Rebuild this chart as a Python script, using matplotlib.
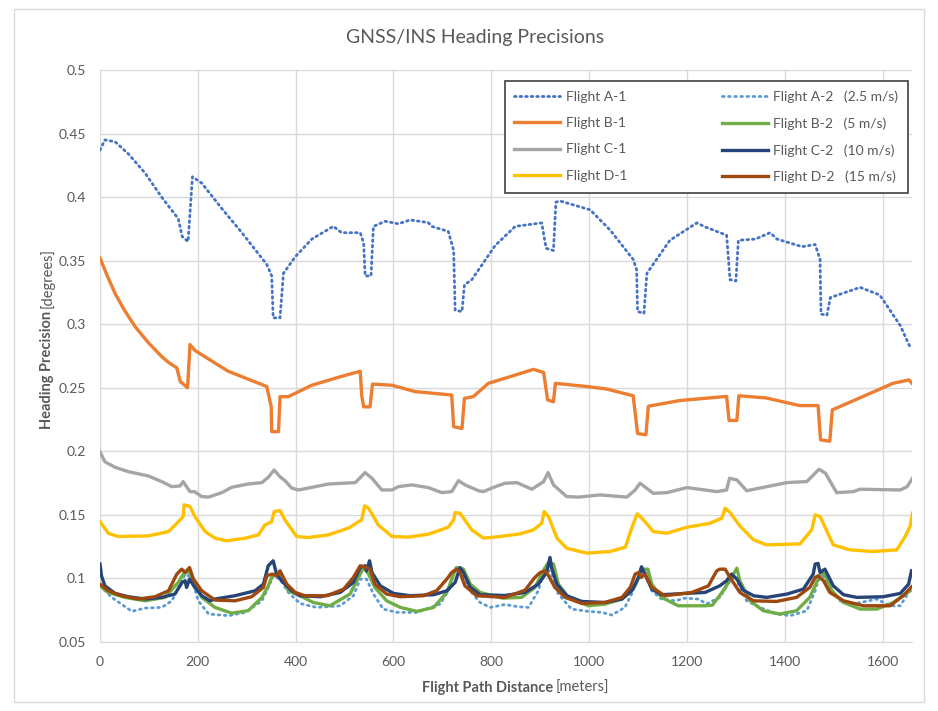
import matplotlib
matplotlib.use("Agg")
import matplotlib.pyplot as plt
from matplotlib.patches import Rectangle

plt.rcParams['font.family'] = ['Lato', 'DejaVu Sans']

# Flight A-1 (dotted blue)
a1_dist = [0, 10, 31, 58, 92, 126, 160, 168, 180, 189, 208, 249, 290, 341, 351, 354,
           368, 375, 399, 433, 477, 494, 532, 539, 542, 554, 559, 583, 610, 634, 671,
           678, 712, 723, 726, 740, 745, 760, 808, 849, 903, 912, 927, 932, 940, 1002,
           1043, 1090, 1097, 1099, 1112, 1118, 1165, 1220, 1237, 1281, 1288, 1300, 1305,
           1340, 1370, 1384, 1435, 1462, 1472, 1474, 1486, 1493, 1554, 1594, 1636, 1656]
a1_prec = [0.437, 0.445, 0.4435, 0.434, 0.419, 0.400, 0.383, 0.369, 0.365, 0.416, 0.411,
           0.391, 0.372, 0.347, 0.338, 0.305, 0.305, 0.340, 0.353, 0.367, 0.377, 0.372,
           0.372, 0.364, 0.338, 0.338, 0.377, 0.381, 0.379, 0.382, 0.380, 0.377, 0.373,
           0.358, 0.311, 0.310, 0.331, 0.335, 0.362, 0.377, 0.3797, 0.3597, 0.358, 0.396,
           0.397, 0.390, 0.374, 0.351, 0.343, 0.310, 0.3085, 0.340, 0.366, 0.3797, 0.3766,
           0.370, 0.335, 0.334, 0.366, 0.367, 0.372, 0.367, 0.361, 0.3627, 0.351, 0.308,
           0.307, 0.321, 0.329, 0.323, 0.299, 0.282]

# Flight B-1 (orange)
b1_dist = [0, 15, 31, 50, 72, 100, 126, 140, 157, 164, 179, 184, 194, 262, 341, 350, 351,
           365, 368, 385, 433, 494, 532, 535, 539, 552, 557, 597, 644, 719, 723, 740, 745,
           763, 794, 849, 886, 907, 915, 927, 931, 995, 1036, 1090, 1099, 1116, 1121, 1186,
           1281, 1286, 1302, 1306, 1362, 1430, 1468, 1473, 1492, 1497, 1553, 1621, 1654,
           1660]
b1_prec = [0.352, 0.338, 0.324, 0.311, 0.298, 0.285, 0.2746, 0.270, 0.2657, 0.255, 0.250,
           0.284, 0.2794, 0.263, 0.251, 0.235, 0.2155, 0.2155, 0.243, 0.243, 0.252, 0.259,
           0.263, 0.244, 0.235, 0.235, 0.2529, 0.252, 0.247, 0.2443, 0.2194, 0.218, 0.2417,
           0.243, 0.2535, 0.260, 0.2645, 0.262, 0.2405, 0.239, 0.2535, 0.251, 0.249,
           0.2437, 0.214, 0.213, 0.2355, 0.240, 0.2432, 0.2243, 0.2243, 0.2437, 0.242,
           0.236, 0.236, 0.209, 0.208, 0.2326, 0.242, 0.2535, 0.2562, 0.2535]

# Flight C-1 (grey)
c1_dist = [0, 10, 31, 58, 99, 126, 147, 164, 170, 179, 184, 193, 208, 222, 249, 269, 303,
           331, 344, 356, 368, 378, 392, 406, 440, 467, 522, 542, 556, 576, 597, 610, 637,
           671, 699, 719, 733, 746, 774, 784, 808, 828, 852, 883, 907, 916, 927, 954, 978,
           1022, 1077, 1094, 1104, 1131, 1159, 1200, 1261, 1281, 1287, 1302, 1322, 1363,
           1404, 1445, 1470, 1483, 1506, 1540, 1554, 1636, 1650, 1661]
c1_prec = [0.1997, 0.1918, 0.1874, 0.184, 0.1806, 0.1762, 0.1722, 0.1728, 0.1762, 0.171,
           0.1683, 0.1683, 0.1644, 0.164, 0.1675, 0.1717, 0.1743, 0.1754, 0.1796, 0.1853,
           0.180, 0.177, 0.171, 0.1696, 0.1722, 0.1743, 0.1754, 0.1833, 0.1788, 0.1696,
           0.1696, 0.1722, 0.1736, 0.1715, 0.1675, 0.1683, 0.177, 0.1736, 0.169, 0.1683,
           0.1722, 0.1749, 0.1754, 0.1702, 0.1762, 0.1833, 0.1736, 0.1644, 0.164, 0.1657,
           0.164, 0.1696, 0.1749, 0.167, 0.1675, 0.1715, 0.1683, 0.1696, 0.1788, 0.1775,
           0.169, 0.1722, 0.1754, 0.1762, 0.1859, 0.1828, 0.1675, 0.1683, 0.1702, 0.1696,
           0.1722, 0.1788]

# Flight D-1 (yellow)
d1_dist = [0, 17, 37, 99, 140, 164, 170, 172, 184, 194, 215, 235, 259, 297, 324, 337, 351,
           356, 368, 378, 402, 426, 467, 508, 535, 541, 549, 569, 597, 630, 671, 712, 723,
           726, 736, 760, 784, 818, 859, 886, 903, 908, 917, 934, 954, 995, 1043, 1074,
           1087, 1098, 1108, 1131, 1159, 1200, 1247, 1271, 1278, 1288, 1309, 1336, 1363,
           1431, 1455, 1462, 1472, 1499, 1533, 1581, 1629, 1646, 1656, 1661]
d1_prec = [0.1447, 0.1355, 0.133, 0.1335, 0.1369, 0.1461, 0.1487, 0.1579, 0.1566, 0.1487,
           0.1369, 0.1317, 0.1296, 0.1317, 0.1343, 0.142, 0.1447, 0.1526, 0.1534, 0.1461,
           0.133, 0.1322, 0.1343, 0.1396, 0.1461, 0.1571, 0.1553, 0.142, 0.133, 0.1325,
           0.1348, 0.1403, 0.1461, 0.1518, 0.1513, 0.1382, 0.1317, 0.133, 0.1351, 0.1382,
           0.1434, 0.1526, 0.1487, 0.1317, 0.1238, 0.1199, 0.1212, 0.1246, 0.1396, 0.1508,
           0.1474, 0.1369, 0.1356, 0.1403, 0.1434, 0.1474, 0.1553, 0.1518, 0.1409, 0.1304,
           0.1264, 0.1272, 0.1382, 0.150, 0.1487, 0.1264, 0.1225, 0.1212, 0.1225, 0.133,
           0.1409, 0.1513]

# Flight A-2 (dotted light blue)
a2_dist = [0, 24, 65, 92, 126, 147, 164, 174, 187, 201, 222, 263, 297, 331, 344, 354, 368,
           385, 409, 443, 491, 518, 532, 545, 559, 579, 607, 648, 695, 716, 723, 729, 743,
           757, 777, 798, 828, 855, 876, 896, 906, 913, 923, 937, 964, 998, 1026, 1046,
           1073, 1090, 1104, 1114, 1128, 1148, 1176, 1196, 1223, 1240, 1267, 1288, 1298,
           1308, 1322, 1349, 1383, 1411, 1445, 1462, 1468, 1479, 1492, 1513, 1540, 1588,
           1615, 1636, 1653, 1660]
a2_prec = [0.0942, 0.0851, 0.0741, 0.0767, 0.0772, 0.0824, 0.0955, 0.1034, 0.1008, 0.0824,
           0.0720, 0.0707, 0.0733, 0.0824, 0.0929, 0.1021, 0.0995, 0.089, 0.0803, 0.0772,
           0.0785, 0.0864, 0.0995, 0.0995, 0.0877, 0.0759, 0.0733, 0.0733, 0.0798, 0.0929,
           0.1073, 0.1086, 0.1034, 0.0903, 0.0811, 0.0772, 0.0795, 0.0777, 0.0772, 0.0903,
           0.1034, 0.1086, 0.1034, 0.0877, 0.0759, 0.0741, 0.0733, 0.0712, 0.0772, 0.0903,
           0.1034, 0.106, 0.0903, 0.0838, 0.0824, 0.0845, 0.0838, 0.0800, 0.0851, 0.0982,
           0.1021, 0.0929, 0.0824, 0.0772, 0.0720, 0.0707, 0.0746, 0.0903, 0.0982, 0.1021,
           0.0929, 0.0824, 0.0798, 0.0838, 0.0785, 0.0785, 0.089, 0.093]

# Flight B-2 (green)
b2_dist = [0, 17, 51, 92, 133, 160, 170, 181, 191, 208, 235, 269, 303, 331, 344, 354, 371,
           385, 409, 436, 470, 511, 532, 539, 549, 562, 586, 614, 648, 682, 709, 723, 729,
           743, 757, 777, 823, 862, 889, 910, 917, 927, 937, 958, 998, 1032, 1067, 1094,
           1107, 1120, 1128, 1148, 1182, 1237, 1252, 1274, 1295, 1302, 1308, 1329, 1356,
           1390, 1424, 1451, 1468, 1475, 1482, 1496, 1520, 1554, 1588, 1622, 1656]
b2_prec = [0.0942, 0.089, 0.0851, 0.0824, 0.0851, 0.0969, 0.1034, 0.106, 0.0982, 0.0851,
           0.0772, 0.0727, 0.0746, 0.0851, 0.0942, 0.1034, 0.1021, 0.0903, 0.0864, 0.0811,
           0.0785, 0.0877, 0.1034, 0.1086, 0.1034, 0.0929, 0.0824, 0.0772, 0.0741, 0.0772,
           0.089, 0.1034, 0.1086, 0.1073, 0.0955, 0.089, 0.0845, 0.0851, 0.0929, 0.1086,
           0.1126, 0.1113, 0.0955, 0.0851, 0.0785, 0.0798, 0.0838, 0.0942, 0.1073, 0.1073,
           0.0955, 0.0851, 0.0785, 0.0785, 0.0790, 0.0903, 0.1034, 0.1081, 0.0982, 0.0824,
           0.0746, 0.0720, 0.0746, 0.0851, 0.0995, 0.1047, 0.1034, 0.0903, 0.0811, 0.0759,
           0.0759, 0.0811, 0.0903]

# Flight C-2 (dark blue)
c2_dist = [0, 3, 10, 31, 58, 92, 126, 153, 168, 174, 177, 183, 194, 208, 225, 235, 276,
           317, 334, 344, 354, 361, 371, 392, 409, 450, 491, 518, 532, 542, 545, 551, 556,
           573, 600, 634, 682, 709, 726, 736, 743, 757, 777, 828, 869, 896, 913, 920, 923,
           934, 954, 985, 1032, 1067, 1087, 1101, 1107, 1114, 1128, 1148, 1196, 1237, 1267,
           1281, 1291, 1302, 1315, 1336, 1363, 1404, 1438, 1458, 1462, 1468, 1472, 1482,
           1499, 1520, 1547, 1601, 1636, 1653, 1659]
c2_prec = [0.1113, 0.1021, 0.0942, 0.0882, 0.0856, 0.0838, 0.0851, 0.0877, 0.0969, 0.0982,
           0.0929, 0.0995, 0.0929, 0.0864, 0.0824, 0.0838, 0.0864, 0.0903, 0.0955, 0.110,
           0.1139, 0.1034, 0.0982, 0.0903, 0.0864, 0.0856, 0.089, 0.0969, 0.1086, 0.110,
           0.106, 0.1139, 0.1047, 0.0942, 0.0882, 0.0864, 0.0872, 0.0903, 0.0969, 0.1086,
           0.1047, 0.0929, 0.0872, 0.0866, 0.089, 0.0955, 0.1047, 0.1165, 0.1086, 0.0955,
           0.0864, 0.0819, 0.0811, 0.0838, 0.0903, 0.1008, 0.1092, 0.1034, 0.0916, 0.0872,
           0.0882, 0.089, 0.0942, 0.0982, 0.1034, 0.0995, 0.0908, 0.0864, 0.0851, 0.0877,
           0.0916, 0.1034, 0.1113, 0.1118, 0.1047, 0.1073, 0.0942, 0.0872, 0.0851, 0.0856,
           0.0882, 0.0955, 0.106]

# Flight D-2 (brown)
d2_dist = [0, 17, 44, 78, 112, 140, 157, 167, 174, 183, 191, 208, 235, 276, 310, 334, 341,
           351, 361, 368, 382, 399, 419, 464, 498, 518, 532, 545, 552, 562, 586, 614, 661,
           688, 709, 719, 729, 736, 746, 770, 828, 869, 889, 900, 910, 917, 930, 951, 985,
           1032, 1067, 1084, 1094, 1101, 1106, 1114, 1128, 1155, 1210, 1244, 1252, 1261,
           1267, 1278, 1288, 1308, 1336, 1383, 1424, 1451, 1462, 1468, 1479, 1492, 1520,
           1561, 1615, 1642, 1659]
d2_prec = [0.0955, 0.0903, 0.0864, 0.0838, 0.0856, 0.0903, 0.1034, 0.1073, 0.1047, 0.1086,
           0.0995, 0.0903, 0.0830, 0.0824, 0.0856, 0.0929, 0.1021, 0.1034, 0.1021, 0.106,
           0.0955, 0.089, 0.0864, 0.0864, 0.0916, 0.1008, 0.110, 0.1086, 0.1073, 0.0955,
           0.0877, 0.0856, 0.0864, 0.0903, 0.0995, 0.1047, 0.1073, 0.1047, 0.0942, 0.0864,
           0.0851, 0.0908, 0.1008, 0.1047, 0.106, 0.1021, 0.0929, 0.0851, 0.0803, 0.0811,
           0.0851, 0.0929, 0.1034, 0.1047, 0.1008, 0.1034, 0.0929, 0.0864, 0.089, 0.0942,
           0.1000, 0.106, 0.1073, 0.1073, 0.1008, 0.089, 0.0824, 0.0819, 0.0851, 0.0929,
           0.1008, 0.1021, 0.0982, 0.089, 0.0824, 0.0785, 0.0785, 0.0864, 0.0934]

x_ticks = [0, 200, 400, 600, 800, 1000, 1200, 1400, 1600]
y_ticks = [0.05, 0.1, 0.15, 0.2, 0.25, 0.3, 0.35, 0.4, 0.45, 0.5]
y_labels = ['0.05', '0.1', '0.15', '0.2', '0.25', '0.3', '0.35', '0.4', '0.45', '0.5']

text_grey = '#595959'

fig = plt.figure(figsize=(9.38, 7.11), dpi=100)
ax = fig.add_axes([100 / 938, 69 / 711, 812 / 938, 572 / 711])

# chart area border
fig.patches.append(Rectangle((14 / 938, 9 / 711), 910 / 938, 693 / 711,
                             transform=fig.transFigure, fill=False,
                             edgecolor='#D9D9D9', linewidth=1))

lw = 2.4
ax.plot(a1_dist, a1_prec, color='#4472C4', lw=2.0, linestyle=(0, (0.6, 1.4)),
        dash_capstyle='round', label='Flight A-1')
ax.plot(b1_dist, b1_prec, color='#ED7D31', lw=lw, label='Flight B-1')
ax.plot(c1_dist, c1_prec, color='#A5A5A5', lw=lw, label='Flight C-1')
ax.plot(d1_dist, d1_prec, color='#FFC000', lw=lw, label='Flight D-1')
ax.plot(a2_dist, a2_prec, color='#5B9BD5', lw=2.0, linestyle=(0, (0.6, 1.6)),
        dash_capstyle='round', label='Flight A-2   (2.5 m/s)')
ax.plot(b2_dist, b2_prec, color='#70AD47', lw=lw, label='Flight B-2   (5 m/s)')
ax.plot(c2_dist, c2_prec, color='#264478', lw=lw, label='Flight C-2   (10 m/s)')
ax.plot(d2_dist, d2_prec, color='#9E480E', lw=lw, label='Flight D-2   (15 m/s)')

ax.set_xlim(0, 1660)
ax.set_ylim(0.05, 0.5)
ax.set_xticks(x_ticks)
ax.set_yticks(y_ticks)
ax.set_yticklabels(y_labels)
ax.grid(True, color='#D9D9D9', linewidth=1)
ax.set_axisbelow(True)
for s in ['top', 'right', 'left']:
    ax.spines[s].set_visible(False)
ax.spines['bottom'].set_color('#D9D9D9')
ax.tick_params(length=0, labelsize=10, colors=text_grey, pad=10)

leg = ax.legend(ncol=2, loc='upper right', bbox_to_anchor=(0.995, 0.981),
                borderaxespad=0, fontsize=10, handlelength=3.3, handletextpad=0.4,
                columnspacing=6.8, labelspacing=1.02, borderpad=0.7,
                frameon=True, fancybox=False, framealpha=1)
leg.get_frame().set_edgecolor('#404040')
leg.get_frame().set_linewidth(1.2)
for t in leg.get_texts():
    t.set_color(text_grey)

fig.text(475 / 938, 1 - 38 / 711, 'GNSS/INS Heading Precisions', ha='center',
         va='center', fontsize=14, color=text_grey)

# axis titles: bold part + regular part
fig.text(553 / 938, 1 - 688 / 711, 'Flight Path Distance', ha='right', va='center',
         fontsize=10.5, fontweight='bold', color=text_grey)
fig.text(556 / 938, 1 - 688 / 711, '[meters]', ha='left', va='center',
         fontsize=10.5, color=text_grey)
fig.text(47 / 938, 1 - 311 / 711, 'Heading Precision', ha='center', va='top',
         rotation=90, fontsize=10.5, fontweight='bold', color=text_grey)
fig.text(47 / 938, 1 - 308 / 711, '[degrees]', ha='center', va='bottom',
         rotation=90, fontsize=10.5, color=text_grey)

fig.savefig('out.png', dpi=100)
